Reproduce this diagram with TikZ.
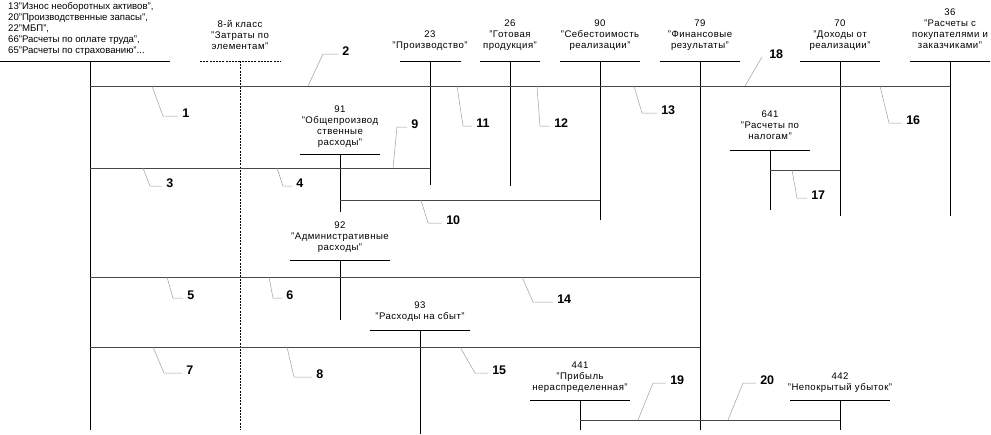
\documentclass[tikz,border=0pt]{standalone}
\usepackage{fontspec}
\setmainfont{Liberation Sans}
\usetikzlibrary{positioning}

\begin{document}
\begin{tikzpicture}[x=1pt, y=-1pt,
    acct/.style={anchor=south, align=center, inner sep=0pt, text depth=0pt,
                 font=\fontsize{9.6}{11}\selectfont\addfontfeatures{LetterSpace=5}},
    tline/.style={line width=1pt, black},
    dline/.style={line width=0.9pt, black, dash pattern=on 2pt off 1.2pt},
    flow/.style={line width=0.9pt, black!72},
    lead/.style={line width=0.5pt, black!38},
    num/.style={anchor=base west, inner sep=0pt, xshift=4pt, yshift=-1.5pt,
                text=black, font=\fontsize{12.5}{14}\selectfont\bfseries},
  ]
    \useasboundingbox (0,0) rectangle (991,434);

    % account titles
    \node[acct, anchor=south west, align=left, font=\fontsize{9.6}{11}\selectfont] (a13) at (8,53.5)
      {13"Износ необоротных активов",\\ 20"Производственные запасы",\\
       22"МБП",\\ 66"Расчеты по оплате труда",\\ 65"Расчеты по страхованию"...};
    \node[acct] (a8)   at (240,50)  {8-й класс\\ "Затраты по\\ элементам"};
    \node[acct] (a23)  at (430,49)  {23\\ "Производство"};
    \node[acct] (a26)  at (510,49)  {26\\ "Готовая\\ продукция"};
    \node[acct] (a90)  at (600,49)  {90\\ "Себестоимость\\ реализации"};
    \node[acct] (a79)  at (700,49)  {79\\ "Финансовые\\ результаты"};
    \node[acct] (a70)  at (840,49)  {70\\ "Доходы от\\ реализации"};
    \node[acct] (a36)  at (950,49)  {36\\ "Расчеты с\\ покупателями и\\ заказчиками"};
    \node[acct] (a91)  at (340,146) {91\\ "Общепроизвод\\ ственные\\ расходы"};
    \node[acct] (a92)  at (340,251) {92\\ "Административные\\ расходы"};
    \node[acct] (a93)  at (420,320) {93\\ "Расходы на сбыт"};
    \node[acct] (a641) at (770,140) {641\\ "Расчеты по\\ налогам"};
    \node[acct] (a441) at (580,391) {441\\ "Прибыль\\ нераспределенная"};
    \node[acct] (a442) at (840,391) {442\\ "Непокрытый убыток"};

    % T-accounts
    \draw[tline] (0,61) -- (170,61) (90,61) -- (90,430);
    \draw[dline] (200,61) -- (281,61) (240,61) -- (240,430);
    \draw[tline] (400,61) -- (461,61) (430,61) -- (430,185);
    \draw[tline] (480,61) -- (540,61) (510,61) -- (510,186);
    \draw[tline] (560,61) -- (640,61) (600,61) -- (600,220);
    \draw[tline] (660,61) -- (740,61) (700,61) -- (700,430);
    \draw[tline] (800,61) -- (880,61) (840,61) -- (840,216);
    \draw[tline] (910,61) -- (990,61) (950,61) -- (950,216);
    \draw[tline] (300,154) -- (380,154) (340,154) -- (340,212);
    \draw[tline] (290,260) -- (390,260) (340,260) -- (340,320);
    \draw[tline] (370,330) -- (470,330) (420,330) -- (420,434);
    \draw[tline] (730,150) -- (810,150) (770,150) -- (770,210);
    \draw[tline] (530,400) -- (630,400) (580,400) -- (580,430);
    \draw[tline] (790,400) -- (890,400) (840,400) -- (840,430);

    % postings
    \draw[flow] (90,86)   -- (950,86);
    \draw[flow] (90,168)  -- (430,168);
    \draw[flow] (340,200) -- (600,200);
    \draw[flow] (90,277)  -- (700,277);
    \draw[flow] (90,347)  -- (700,347);
    \draw[flow] (770,170) -- (840,170);
    \draw[flow] (580,420) -- (840,420);

    % numbers of postings
    \draw[lead] (152,86)  -- (163,116) -- ++(15,0) node[num] (l1)  {1};
    \draw[lead] (308,86)  -- (323,54)  -- ++(15,0) node[num] (l2)  {2};
    \draw[lead] (143,168) -- (150,186) -- ++(12,0) node[num] (l3)  {3};
    \draw[lead] (277,168) -- (283,186) -- ++(9,0)  node[num] (l4)  {4};
    \draw[lead] (167,277) -- (173,298) -- ++(10,0) node[num] (l5)  {5};
    \draw[lead] (269,277) -- (273,298) -- ++(9,0)  node[num] (l6)  {6};
    \draw[lead] (153,347) -- (164,373) -- ++(18,0) node[num] (l7)  {7};
    \draw[lead] (287,347) -- (294,377) -- ++(18,0) node[num] (l8)  {8};
    \draw[lead] (393,168) -- (397,127) -- ++(10,0) node[num] (l9)  {9};
    \draw[lead] (421,200) -- (428,223) -- ++(14,0) node[num] (l10) {10};
    \draw[lead] (457,86)  -- (463,126) -- ++(9,0)  node[num] (l11) {11};
    \draw[lead] (537,86)  -- (540,126) -- ++(10,0) node[num] (l12) {12};
    \draw[lead] (634,86)  -- (642,113) -- ++(15,0) node[num] (l13) {13};
    \draw[lead] (522,277) -- (533,302) -- ++(20,0) node[num] (l14) {14};
    \draw[lead] (460,347) -- (475,373) -- ++(13,0) node[num] (l15) {15};
    \draw[lead] (880,86)  -- (889,123) -- ++(13,0) node[num] (l16) {16};
    \draw[lead] (792,170) -- (797,198) -- ++(10,0) node[num] (l17) {17};
    \draw[lead] (745,86)  -- (762,57)  node[num, xshift=3pt] (l18) {18};
    \draw[lead] (638,420) -- (653,383) -- ++(13,0) node[num] (l19) {19};
    \draw[lead] (728,420) -- (743,383) -- ++(13,0) node[num] (l20) {20};
  \end{tikzpicture}
\end{document}
